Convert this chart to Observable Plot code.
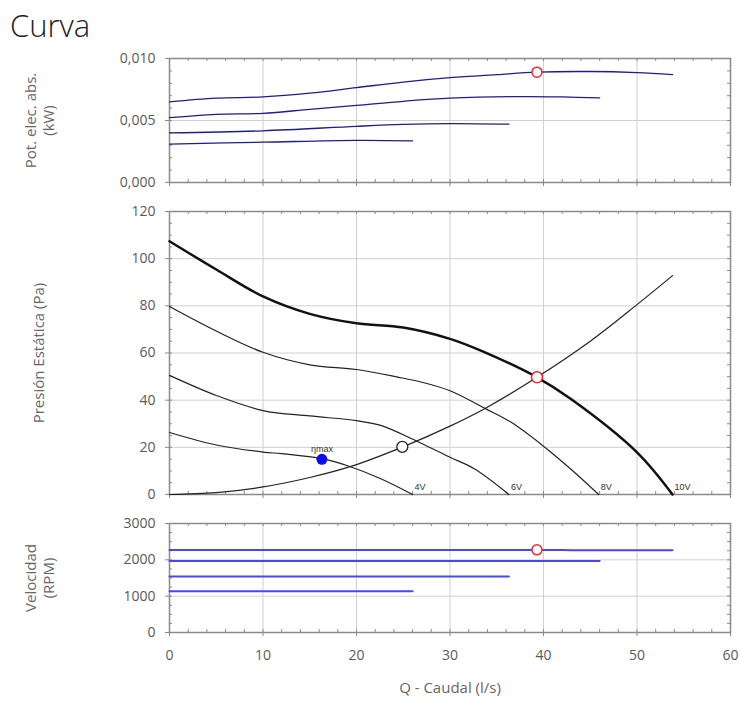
<!DOCTYPE html>
<html><head><meta charset="utf-8">
<script src="https://cdn.jsdelivr.net/npm/d3@7"></script>
<script src="https://cdn.jsdelivr.net/npm/@observablehq/plot@0.6"></script>
<style>
body{margin:0;background:#fff;}
#root{position:relative;width:740px;height:704px;font-family:"Open Sans",sans-serif;overflow:hidden;}
#title{position:absolute;left:10px;top:7px;font-size:31px;font-weight:300;color:#222;line-height:1.2;}
.panel{position:absolute;left:0;}
</style></head>
<body><div id="root">
<div id="title">Curva</div>
<div id="p1" class="panel" style="top:48px"></div>
<div id="p2" class="panel" style="top:200px"></div>
<div id="p3" class="panel" style="top:513px"></div>
</div>
<script>
const tensiones = ["4V", "6V", "8V", "10V"];

const potencia4V = [[0,0.0031],[10,0.00325],[20,0.0034],[26,0.00336]];
const potencia6V = [[0,0.0040],[10,0.00417],[20,0.00453],[25,0.00468],[30,0.00475],[36.3,0.0047]];
const potencia8V = [[0,0.00523],[5,0.0055],[10,0.00558],[15,0.0059],[20,0.00622],[25,0.00655],[30,0.0068],[37.5,0.00693],[42,0.0069],[46,0.00682]];
const potencia10V = [[0,0.0065],[5,0.0068],[10,0.0069],[15,0.0072],[20,0.00765],[25,0.0081],[30,0.00845],[35,0.0087],[39.3,0.0089],[45,0.00895],[50,0.00886],[53.8,0.0087]];

const presion4V = [[0,26.3],[5,21],[10,18],[12,17.3],[16.3,15.2],[19.2,12],[22.6,6.7],[26,0]];
const presion6V = [[0,50.5],[5,42],[10,35.6],[15,33.3],[20,31.3],[22.6,29.3],[26.5,22.5],[30,15.8],[32.6,10.9],[36.3,0]];
const presion8V = [[0,79.7],[5,69.3],[10,60.3],[15,55],[20,53],[24.4,49.8],[27,47.6],[30,44],[33.8,36.4],[36.5,30.7],[40,20.5],[43,10.5],[45.9,0]];
const presion10V = [[0,107.4],[5,95.4],[10,84],[15,76.6],[20,72.6],[25,70.8],[30,66],[33.3,61],[39.3,49.7],[42.9,40.6],[50,17.9],[53.8,0]];
const sistema = [[0,0],[5,0.8],[10,3.2],[15,7.2],[19.4,11.9],[24.9,20.1],[30,29],[33.8,36.6],[39.3,49.7],[45,65],[50,80.5],[53.8,92.8]];

const rpm4V = [[0,1135],[26,1135]];
const rpm6V = [[0,1540],[36.3,1540]];
const rpm8V = [[0,1965],[46,1965]];
const rpm10V = [[0,2270],[42,2270],[43,2262],[53.8,2262]];

const puntoTrabajo = {q: 39.3, pot: 0.0089, p: 49.7, rpm: 2275};
const puntoNmax = {q: 16.3, p: 14.9};
const puntoSistema = {q: 24.9, p: 20.2};

const qTicks = [0, 10, 20, 30, 40, 50, 60];
const qMinor = [0,2,4,6,8,10,12,14,16,18,20,22,24,26,28,30,32,34,36,38,40,42,44,46,48,50,52,54,56,58,60];
const potTicks = [0, 0.005, 0.010];
const potMinor = [0,0.001,0.002,0.003,0.004,0.005,0.006,0.007,0.008,0.009,0.010];
const presTicks = [0, 20, 40, 60, 80, 100, 120];
const presMinor = [0,5,10,15,20,25,30,35,40,45,50,55,60,65,70,75,80,85,90,95,100,105,110,115,120];
const rpmTicks = [0, 1000, 2000, 3000];
const rpmMinor = [0,250,500,750,1000,1250,1500,1750,2000,2250,2500,2750,3000];

const W = 740, ML = 169, MR = 10;
const plotW = W - ML - MR;
const frameColor = "#8a8a8a";
const gridColor = "#d0d0d0";
const labelColor = "#666";
const style = {fontFamily: "'Open Sans', sans-serif", fontSize: "14px", color: "#5a5a5a", background: "white", overflow: "visible"};

function minorTicks(xMinor, yMinor, plotH) {
  const s = {stroke: frameColor, strokeWidth: 1};
  return [
    Plot.ruleX(xMinor, {x: d => d, insetBottom: plotH - 3, ...s}),
    Plot.ruleX(xMinor, {x: d => d, insetTop: plotH - 3, ...s}),
    Plot.ruleY(yMinor, {y: d => d, insetRight: plotW - 3, ...s}),
    Plot.ruleY(yMinor, {y: d => d, insetLeft: plotW - 3, ...s})
  ];
}
const xy = {x: d => d[0], y: d => d[1], curve: "catmull-rom"};
const axisTitle = {textAnchor: "middle", lineAnchor: "middle", rotate: -90, text: d => d, fontSize: 15, fill: labelColor, lineHeight: 1.2};

// Panel 1: power
{
  const H = 145, MT = 10, MB = 11;
  const fmt = d => d3.format(".3f")(d).replace(".", ",");
  const chart = Plot.plot({
    width: W, height: H, marginLeft: ML, marginRight: MR, marginTop: MT, marginBottom: MB,
    style,
    x: {domain: [0, 60]},
    y: {domain: [0, 0.010]},
    marks: [
      Plot.gridX(qTicks, {stroke: gridColor, strokeOpacity: 1}),
      Plot.gridY(potTicks, {stroke: gridColor, strokeOpacity: 1}),
      ...minorTicks(qMinor, potMinor, H - MT - MB),
      Plot.axisX({ticks: qTicks, tickSize: 4, tickFormat: () => "", stroke: frameColor, label: null}),
      Plot.axisY({ticks: potTicks, tickSize: 4, tickPadding: 10, tickFormat: fmt, stroke: frameColor, label: null, fontSize: 14}),
      Plot.frame({stroke: frameColor, strokeWidth: 1.5}),
      ...[potencia4V, potencia6V, potencia8V, potencia10V].map(c => Plot.line(c, {...xy, stroke: "#1e1e88", strokeWidth: 1.3})),
      Plot.dot([puntoTrabajo], {x: "q", y: "pot", r: 5, stroke: "#ee2a2a", fill: "white", strokeWidth: 1.5}),
      Plot.text(["Pot. elec. abs.\n(kW)"], {frameAnchor: "left", dx: -130, ...axisTitle})
    ]
  });
  document.getElementById("p1").append(chart);
}

// Panel 2: pressure
{
  const H = 305, MT = 11, MB = 11;
  const curvas = [presion4V, presion6V, presion8V, presion10V];
  const etiquetas = tensiones.map((t, i) => ({t, q: curvas[i][curvas[i].length - 1][0]}));
  const chart = Plot.plot({
    width: W, height: H, marginLeft: ML, marginRight: MR, marginTop: MT, marginBottom: MB,
    style,
    x: {domain: [0, 60]},
    y: {domain: [0, 120]},
    marks: [
      Plot.gridX(qTicks, {stroke: gridColor, strokeOpacity: 1}),
      Plot.gridY(presTicks, {stroke: gridColor, strokeOpacity: 1}),
      ...minorTicks(qMinor, presMinor, H - MT - MB),
      Plot.axisX({ticks: qTicks, tickSize: 4, tickFormat: () => "", stroke: frameColor, label: null}),
      Plot.axisY({ticks: presTicks, tickSize: 4, tickPadding: 10, stroke: frameColor, label: null, fontSize: 14}),
      Plot.frame({stroke: frameColor, strokeWidth: 1.5}),
      Plot.line(presion4V, {...xy, stroke: "#222", strokeWidth: 1.2}),
      Plot.line(presion6V, {...xy, stroke: "#222", strokeWidth: 1.2}),
      Plot.line(presion8V, {...xy, stroke: "#222", strokeWidth: 1.2}),
      Plot.line(presion10V, {...xy, stroke: "#111", strokeWidth: 2.5}),
      Plot.line(sistema, {...xy, stroke: "#222", strokeWidth: 1.2}),
      Plot.text(etiquetas, {x: "q", y: () => 0, text: "t", textAnchor: "start", dx: 2, dy: -7, fontSize: 9, fontFamily: "'Liberation Sans', Arial, sans-serif", fill: "#333"}),
      Plot.dot([puntoSistema], {x: "q", y: "p", r: 5.5, stroke: "#222", fill: "white", strokeWidth: 1.3}),
      Plot.dot([puntoTrabajo], {x: "q", y: "p", r: 5.5, stroke: "#ee2a2a", fill: "white", strokeWidth: 1.5}),
      Plot.dot([puntoNmax], {x: "q", y: "p", r: 5.5, fill: "#0a0af0", stroke: "none"}),
      Plot.text([puntoNmax], {x: "q", y: "p", text: () => "ηmax", dy: -10, fontSize: 9, fontFamily: "'Liberation Sans', Arial, sans-serif", fill: "#333"}),
      Plot.text(["Presión Estática (Pa)"], {frameAnchor: "left", dx: -131, ...axisTitle})
    ]
  });
  document.getElementById("p2").append(chart);
}

// Panel 3: speed
{
  const H = 191, MT = 10, MB = 72;
  const chart = Plot.plot({
    width: W, height: H, marginLeft: ML, marginRight: MR, marginTop: MT, marginBottom: MB,
    style,
    x: {domain: [0, 60]},
    y: {domain: [0, 3000]},
    marks: [
      Plot.gridX(qTicks, {stroke: gridColor, strokeOpacity: 1}),
      Plot.gridY(rpmTicks, {stroke: gridColor, strokeOpacity: 1}),
      ...minorTicks(qMinor, rpmMinor, H - MT - MB),
      Plot.axisX({ticks: qTicks, tickSize: 4, tickPadding: 14, tickFormat: d => String(d), stroke: frameColor, label: null, fontSize: 14}),
      Plot.axisY({ticks: rpmTicks, tickSize: 4, tickPadding: 10, tickFormat: d => String(d), stroke: frameColor, label: null, fontSize: 14}),
      Plot.frame({stroke: frameColor, strokeWidth: 1.5}),
      ...[rpm4V, rpm6V, rpm8V, rpm10V].map(c => Plot.line(c, {x: d => d[0], y: d => d[1], stroke: "#4848ee", strokeWidth: 2})),
      Plot.dot([puntoTrabajo], {x: "q", y: "rpm", r: 5, stroke: "#ee2a2a", fill: "white", strokeWidth: 1.5}),
      Plot.text(["Velocidad\n(RPM)"], {frameAnchor: "left", dx: -130, ...axisTitle}),
      Plot.text(["Q - Caudal (l/s)"], {frameAnchor: "bottom", dy: 60, text: d => d, fontSize: 15, fill: labelColor})
    ]
  });
  document.getElementById("p3").append(chart);
}
</script>
</body></html>
